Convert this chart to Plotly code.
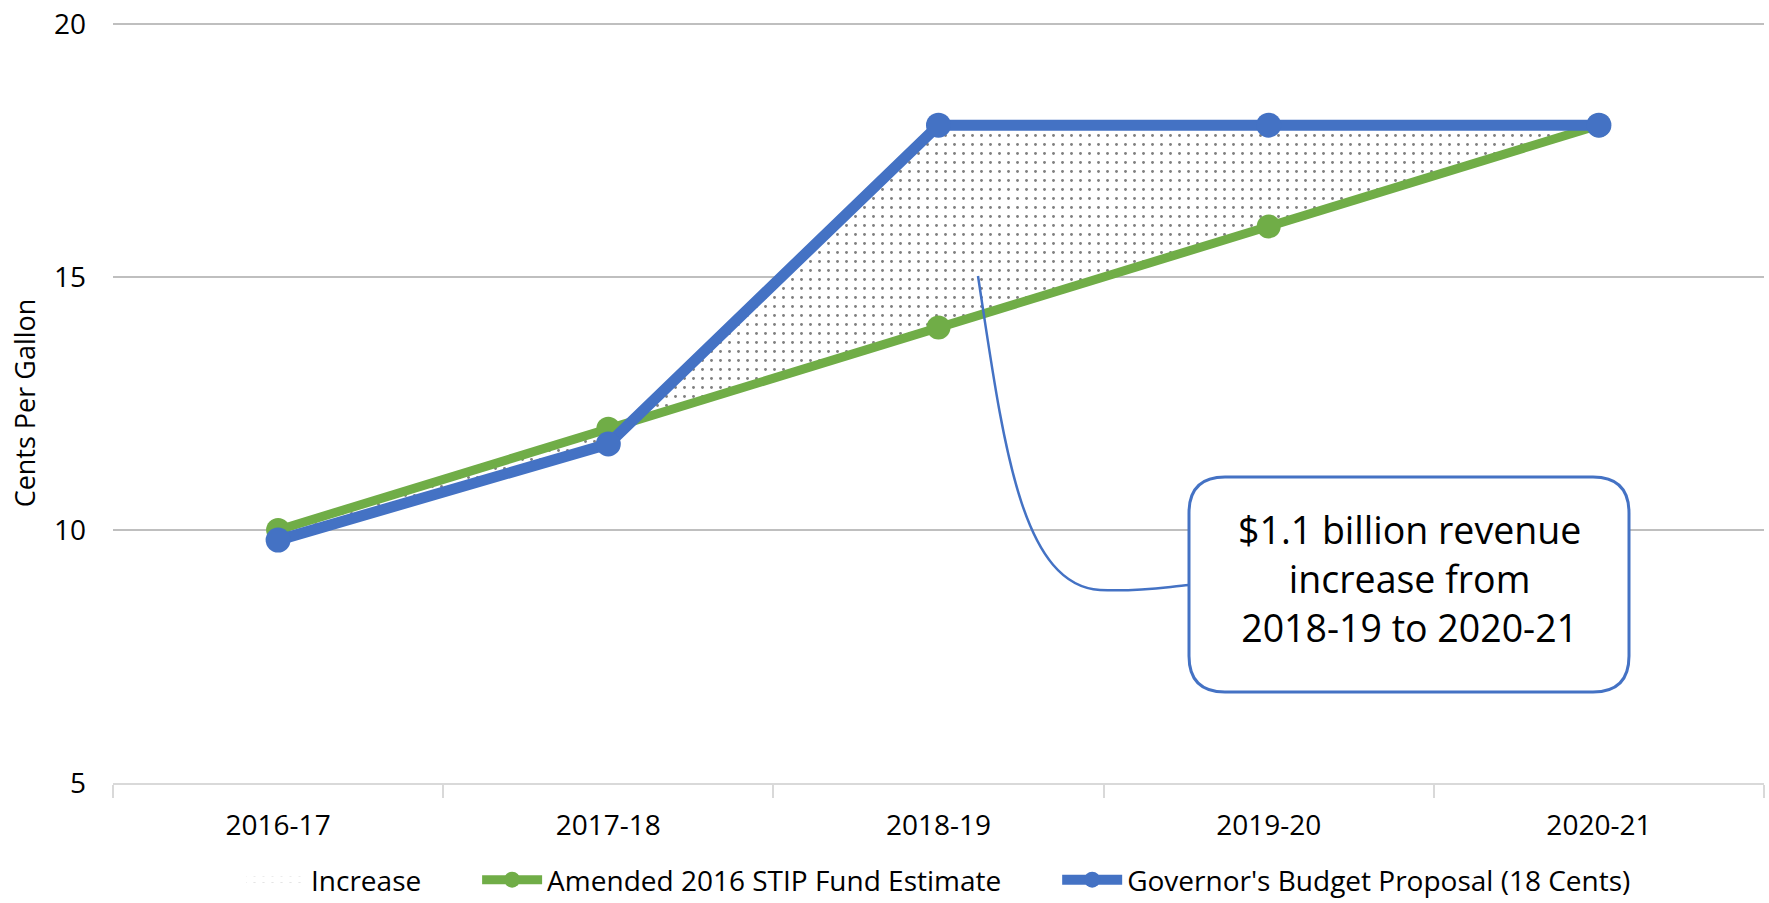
import plotly.graph_objects as go

categories = ["2016-17", "2017-18", "2018-19", "2019-20", "2020-21"]
stip_estimate = [10.0, 12.0, 14.0, 16.0, 18.0]
governor_proposal = [9.8, 11.7, 18.0, 18.0, 18.0]
increase = [g - s for g, s in zip(governor_proposal, stip_estimate)]
y_ticks = [5, 10, 15, 20]
legend_names = ["Increase", "Amended 2016 STIP Fund Estimate",
                "Governor's Budget Proposal (18 Cents)"]

GREEN = "#70AD47"
BLUE = "#4472C4"
FONT = "Open Sans"

W, H = 1769, 903
ML, MR, MT, MB = 113, 5, 23, 120
X0, X1 = -0.5, len(categories) - 0.5
Y0, Y1 = 5, 20.02
pw = W - ML - MR
ph = H - MT - MB
GAP = "&nbsp;" * 7


def dx(px):
    """window pixel x -> data x"""
    return X0 + (px - ML) / pw * (X1 - X0)


def dy(py):
    """window pixel y -> data y"""
    return Y1 - (py - MT) / ph * (Y1 - Y0)


xs = list(range(len(categories)))
top = [s + inc for s, inc in zip(stip_estimate, increase)]

fig = go.Figure()
fig.add_trace(go.Scatter(x=xs, y=stip_estimate, mode="lines", line=dict(width=0),
                         showlegend=False, hoverinfo="skip"))
fig.add_trace(go.Scatter(x=xs, y=top, mode="none", fill="tonexty",
                         name=legend_names[0] + GAP,
                         fillcolor="white",
                         fillpattern=dict(shape=".", size=9, solidity=0.08,
                                          fgcolor="black", bgcolor="white")))
fig.add_trace(go.Scatter(x=xs, y=stip_estimate, mode="lines+markers",
                         name=legend_names[1] + GAP,
                         line=dict(color=GREEN, width=9),
                         marker=dict(color=GREEN, size=24)))
fig.add_trace(go.Scatter(x=xs, y=governor_proposal, mode="lines+markers",
                         name=legend_names[2],
                         line=dict(color=BLUE, width=11),
                         marker=dict(color=BLUE, size=25)))

# callout box (rounded rectangle), given in window pixels
bx0, bx1, by0, by1, r = 1189, 1629, 477, 692, 36
box_path = (
    f"M {dx(bx0 + r)},{dy(by0)} L {dx(bx1 - r)},{dy(by0)} "
    f"Q {dx(bx1)},{dy(by0)} {dx(bx1)},{dy(by0 + r)} "
    f"L {dx(bx1)},{dy(by1 - r)} Q {dx(bx1)},{dy(by1)} {dx(bx1 - r)},{dy(by1)} "
    f"L {dx(bx0 + r)},{dy(by1)} Q {dx(bx0)},{dy(by1)} {dx(bx0)},{dy(by1 - r)} "
    f"L {dx(bx0)},{dy(by0 + r)} Q {dx(bx0)},{dy(by0)} {dx(bx0 + r)},{dy(by0)} Z"
)
leader_path = (
    f"M {dx(978)},{dy(276)} C {dx(1003)},{dy(440)} {dx(1020)},{dy(585)} {dx(1100)},{dy(590)} "
    f"C {dx(1140)},{dy(592)} {dx(1165)},{dy(587)} {dx(1189)},{dy(585)}"
)
fig.add_shape(type="path", path=leader_path, xref="x", yref="y",
              line=dict(color=BLUE, width=2.5), layer="above")
fig.add_shape(type="path", path=box_path, xref="x", yref="y",
              line=dict(color=BLUE, width=3), fillcolor="white", layer="above")
fig.add_annotation(x=dx((bx0 + bx1) / 2), y=dy((by0 + by1) / 2), xref="x", yref="y",
                   yshift=6,
                   text="$1.1 billion revenue<br>increase from<br>2018-19 to 2020-21",
                   showarrow=False, font=dict(family=FONT, size=37.5, color="black"),
                   align="center")

fig.update_layout(
    width=W, height=H,
    margin=dict(l=ML, r=MR, t=MT, b=MB, autoexpand=False),
    paper_bgcolor="white", plot_bgcolor="white",
    font=dict(family=FONT, size=28, color="black"),
    showlegend=True,
    legend=dict(orientation="h", x=0.5, xanchor="center", y=-97 / ph, yanchor="middle",
                font=dict(family=FONT, size=28, color="black"), itemwidth=60,
                traceorder="normal"),
    xaxis=dict(range=[X0, X1], tickmode="array", tickvals=xs, ticktext=categories,
               showgrid=False, zeroline=False, showline=True, linecolor="#D9D9D9",
               linewidth=2, ticks="", ticklabelstandoff=16, automargin=False,
               minor=dict(tickmode="linear", tick0=-0.5, dtick=1, ticks="outside",
                          ticklen=13, tickcolor="#D9D9D9", tickwidth=1.5, showgrid=False),
               fixedrange=True),
    yaxis=dict(range=[Y0, Y1], tickmode="array", tickvals=y_ticks,
               showgrid=True, gridcolor="#BFBFBF", gridwidth=1.5, zeroline=False,
               showline=False, ticks="", ticklabelstandoff=26, automargin=False,
               ticklabeloverflow="allow",
               title=dict(text="Cents Per Gallon", standoff=10,
                          font=dict(family=FONT, size=27, color="black")),
               fixedrange=True),
)

fig.write_html("out.html", config={"displayModeBar": False},
               post_script="document.body.style.margin='0px';document.body.style.overflow='hidden';")
